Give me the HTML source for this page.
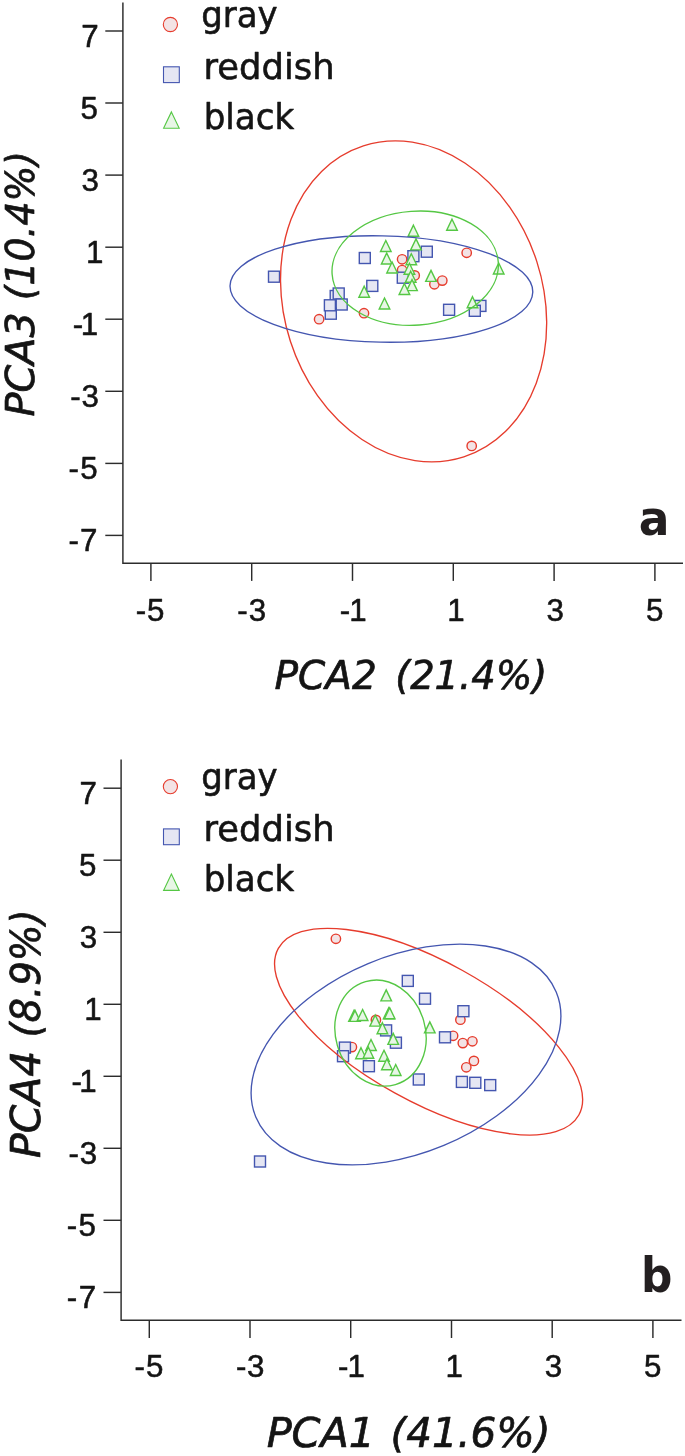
<!DOCTYPE html>
<html><head><meta charset="utf-8"><title>PCA plots</title>
<style>
html,body{margin:0;padding:0;background:#fff;}
svg{display:block;}
text{font-family:"DejaVu Sans","Liberation Sans",sans-serif;fill:#141414;stroke:#141414;stroke-width:0.5px;stroke-linejoin:round;}
.tk{font-size:31.3px;font-family:"Liberation Sans","DejaVu Sans",sans-serif;stroke-width:0.55px;}
.lg{font-size:35.8px;stroke-width:0.6px;}
.tia{font-size:39.5px;font-style:italic;stroke-width:0.7px;}
.tib{font-size:40.5px;font-style:italic;stroke-width:0.7px;}
.lt{font-size:48px;font-weight:bold;stroke-width:0;fill:#231f20;}
</style></head><body>
<svg width="685" height="1456" viewBox="0 0 685 1456">
<rect width="685" height="1456" fill="#ffffff"/>
<path d="M122.9 2.6V563.2H683.0" fill="none" stroke="#2c2c2c" stroke-width="1.45"/>
<path d="M105.3 535.4H122.9" stroke="#2c2c2c" stroke-width="1.45"/>
<text x="68.62" y="551.21" class="tk" textLength="28.80" lengthAdjust="spacing">-7</text>
<path d="M105.3 463.4H122.9" stroke="#2c2c2c" stroke-width="1.45"/>
<text x="68.62" y="479.15" class="tk" textLength="29.06" lengthAdjust="spacing">-5</text>
<path d="M105.3 391.3H122.9" stroke="#2c2c2c" stroke-width="1.45"/>
<text x="70.30" y="407.09" class="tk" textLength="28.52" lengthAdjust="spacing">-3</text>
<path d="M105.3 319.2H122.9" stroke="#2c2c2c" stroke-width="1.45"/>
<text x="72.80" y="335.03" class="tk" textLength="25.47" lengthAdjust="spacing">-1</text>
<path d="M105.3 247.2H122.9" stroke="#2c2c2c" stroke-width="1.45"/>
<text x="86.07" y="262.97" class="tk">1</text>
<path d="M105.3 175.1H122.9" stroke="#2c2c2c" stroke-width="1.45"/>
<text x="81.58" y="190.91" class="tk">3</text>
<path d="M105.3 103.0H122.9" stroke="#2c2c2c" stroke-width="1.45"/>
<text x="80.45" y="118.85" class="tk">5</text>
<path d="M105.3 31.0H122.9" stroke="#2c2c2c" stroke-width="1.45"/>
<text x="81.27" y="46.79" class="tk">7</text>
<path d="M150.9 563.2V580.9" stroke="#2c2c2c" stroke-width="1.45"/>
<text x="135.78" y="621.00" class="tk" textLength="28.67" lengthAdjust="spacing">-5</text>
<path d="M251.7 563.2V580.9" stroke="#2c2c2c" stroke-width="1.45"/>
<text x="237.21" y="621.00" class="tk" textLength="28.83" lengthAdjust="spacing">-3</text>
<path d="M352.5 563.2V580.9" stroke="#2c2c2c" stroke-width="1.45"/>
<text x="339.71" y="621.00" class="tk" textLength="26.90" lengthAdjust="spacing">-1</text>
<path d="M453.3 563.2V580.9" stroke="#2c2c2c" stroke-width="1.45"/>
<text x="447.37" y="621.00" class="tk">1</text>
<path d="M554.1 563.2V580.9" stroke="#2c2c2c" stroke-width="1.45"/>
<text x="546.60" y="621.00" class="tk">3</text>
<path d="M654.9 563.2V580.9" stroke="#2c2c2c" stroke-width="1.45"/>
<text x="646.04" y="621.00" class="tk">5</text>
<circle cx="170.4" cy="24.5" r="7.1" fill="#f3e3e5" stroke="#e63c2d" stroke-width="1.1"/>
<rect x="163.5" y="66.8" width="15.8" height="15.8" fill="#e5e6f3" stroke="#4456b0" stroke-width="1.1"/>
<path d="M171.4 111.9L179.2 128.3L163.6 128.3Z" fill="#e8f6e6" stroke="#55c744" stroke-width="1.1" stroke-linejoin="miter"/>
<text x="201.14" y="27.20" class="lg" textLength="76.58" lengthAdjust="spacingAndGlyphs">gray</text>
<text x="203.51" y="79.10" class="lg" textLength="131.05" lengthAdjust="spacingAndGlyphs">reddish</text>
<text x="203.64" y="128.70" class="lg" textLength="90.60" lengthAdjust="spacingAndGlyphs">black</text>
<circle cx="319.1" cy="319.2" r="4.7" fill="#f3e3e5" stroke="#e63c2d" stroke-width="1.4"/>
<circle cx="364.0" cy="313.2" r="4.7" fill="#f3e3e5" stroke="#e63c2d" stroke-width="1.4"/>
<circle cx="402.1" cy="259.3" r="4.7" fill="#f3e3e5" stroke="#e63c2d" stroke-width="1.4"/>
<circle cx="402.1" cy="270.1" r="4.7" fill="#f3e3e5" stroke="#e63c2d" stroke-width="1.4"/>
<circle cx="414.7" cy="275.4" r="4.7" fill="#f3e3e5" stroke="#e63c2d" stroke-width="1.4"/>
<circle cx="434.4" cy="284.3" r="4.7" fill="#f3e3e5" stroke="#e63c2d" stroke-width="1.4"/>
<circle cx="442.3" cy="280.6" r="4.7" fill="#f3e3e5" stroke="#e63c2d" stroke-width="1.4"/>
<circle cx="466.7" cy="252.8" r="4.7" fill="#f3e3e5" stroke="#e63c2d" stroke-width="1.4"/>
<circle cx="471.7" cy="445.9" r="4.7" fill="#f3e3e5" stroke="#e63c2d" stroke-width="1.4"/>
<rect x="268.5" y="271.2" width="11" height="11" fill="#e5e6f3" stroke="#4456b0" stroke-width="1.4"/>
<rect x="359.3" y="252.5" width="11" height="11" fill="#e5e6f3" stroke="#4456b0" stroke-width="1.4"/>
<rect x="366.8" y="280.4" width="11" height="11" fill="#e5e6f3" stroke="#4456b0" stroke-width="1.4"/>
<rect x="330.2" y="290.5" width="11" height="11" fill="#e5e6f3" stroke="#4456b0" stroke-width="1.4"/>
<rect x="333.2" y="288.0" width="11" height="11" fill="#e5e6f3" stroke="#4456b0" stroke-width="1.4"/>
<rect x="336.2" y="299.0" width="11" height="11" fill="#e5e6f3" stroke="#4456b0" stroke-width="1.4"/>
<rect x="325.3" y="308.2" width="11" height="11" fill="#e5e6f3" stroke="#4456b0" stroke-width="1.4"/>
<rect x="324.4" y="299.8" width="11" height="11" fill="#e5e6f3" stroke="#4456b0" stroke-width="1.4"/>
<rect x="421.3" y="246.2" width="11" height="11" fill="#e5e6f3" stroke="#4456b0" stroke-width="1.4"/>
<rect x="407.9" y="250.7" width="11" height="11" fill="#e5e6f3" stroke="#4456b0" stroke-width="1.4"/>
<rect x="397.3" y="272.2" width="11" height="11" fill="#e5e6f3" stroke="#4456b0" stroke-width="1.4"/>
<rect x="443.6" y="304.3" width="11" height="11" fill="#e5e6f3" stroke="#4456b0" stroke-width="1.4"/>
<rect x="474.9" y="300.4" width="11" height="11" fill="#e5e6f3" stroke="#4456b0" stroke-width="1.4"/>
<rect x="469.3" y="305.3" width="11" height="11" fill="#e5e6f3" stroke="#4456b0" stroke-width="1.4"/>
<path d="M385.8 240.5L391.1 251.5L380.5 251.5Z" fill="#e8f6e6" stroke="#55c744" stroke-width="1.4" stroke-linejoin="miter"/>
<path d="M386.7 253.0L392.0 264.0L381.4 264.0Z" fill="#e8f6e6" stroke="#55c744" stroke-width="1.4" stroke-linejoin="miter"/>
<path d="M392.1 262.0L397.4 273.0L386.8 273.0Z" fill="#e8f6e6" stroke="#55c744" stroke-width="1.4" stroke-linejoin="miter"/>
<path d="M364.2 286.2L369.5 297.2L358.9 297.2Z" fill="#e8f6e6" stroke="#55c744" stroke-width="1.4" stroke-linejoin="miter"/>
<path d="M384.5 298.0L389.8 309.0L379.2 309.0Z" fill="#e8f6e6" stroke="#55c744" stroke-width="1.4" stroke-linejoin="miter"/>
<path d="M413.4 225.2L418.7 236.2L408.1 236.2Z" fill="#e8f6e6" stroke="#55c744" stroke-width="1.4" stroke-linejoin="miter"/>
<path d="M452.0 219.2L457.3 230.2L446.7 230.2Z" fill="#e8f6e6" stroke="#55c744" stroke-width="1.4" stroke-linejoin="miter"/>
<path d="M416.0 238.9L421.3 249.9L410.7 249.9Z" fill="#e8f6e6" stroke="#55c744" stroke-width="1.4" stroke-linejoin="miter"/>
<path d="M411.3 253.8L416.6 264.8L406.0 264.8Z" fill="#e8f6e6" stroke="#55c744" stroke-width="1.4" stroke-linejoin="miter"/>
<path d="M409.4 263.3L414.7 274.3L404.1 274.3Z" fill="#e8f6e6" stroke="#55c744" stroke-width="1.4" stroke-linejoin="miter"/>
<path d="M410.7 271.2L416.0 282.2L405.4 282.2Z" fill="#e8f6e6" stroke="#55c744" stroke-width="1.4" stroke-linejoin="miter"/>
<path d="M412.0 279.6L417.3 290.6L406.7 290.6Z" fill="#e8f6e6" stroke="#55c744" stroke-width="1.4" stroke-linejoin="miter"/>
<path d="M404.4 283.5L409.7 294.5L399.1 294.5Z" fill="#e8f6e6" stroke="#55c744" stroke-width="1.4" stroke-linejoin="miter"/>
<path d="M431.0 270.4L436.3 281.4L425.7 281.4Z" fill="#e8f6e6" stroke="#55c744" stroke-width="1.4" stroke-linejoin="miter"/>
<path d="M498.7 263.0L504.0 274.0L493.4 274.0Z" fill="#e8f6e6" stroke="#55c744" stroke-width="1.4" stroke-linejoin="miter"/>
<path d="M472.5 296.7L477.8 307.7L467.2 307.7Z" fill="#e8f6e6" stroke="#55c744" stroke-width="1.4" stroke-linejoin="miter"/>
<ellipse cx="413.6" cy="301.4" rx="129.5" ry="163.4" transform="rotate(162.1 413.6 301.4)" fill="none" stroke="#e63c2d" stroke-width="1.35"/>
<ellipse cx="381.4" cy="289.0" rx="53.2" ry="151.4" transform="rotate(91.2 381.4 289.0)" fill="none" stroke="#4456b0" stroke-width="1.35"/>
<ellipse cx="415.2" cy="268.2" rx="57.0" ry="83.3" transform="rotate(85.8 415.2 268.2)" fill="none" stroke="#55c744" stroke-width="1.35"/>
<text x="274.46" y="689.30" class="tia" textLength="102.29" lengthAdjust="spacingAndGlyphs">PCA2</text>
<text x="395.15" y="689.30" class="tia" textLength="152.21" lengthAdjust="spacingAndGlyphs">(21.4%)</text>
<text transform="translate(33.50 416.50) rotate(-90)" class="tia" textLength="104.20" lengthAdjust="spacingAndGlyphs">PCA3</text>
<text transform="translate(33.50 300.17) rotate(-90)" class="tia" textLength="149.22" lengthAdjust="spacingAndGlyphs">(10.4%)</text>
<text x="638.66" y="535.30" class="lt" textLength="30.70" lengthAdjust="spacingAndGlyphs">a</text>
<path d="M121.1 759.6V1320.3H681.5" fill="none" stroke="#2c2c2c" stroke-width="1.45"/>
<path d="M103.5 1292.4H121.1" stroke="#2c2c2c" stroke-width="1.45"/>
<text x="66.84" y="1308.17" class="tk" textLength="29.40" lengthAdjust="spacing">-7</text>
<path d="M103.5 1220.3H121.1" stroke="#2c2c2c" stroke-width="1.45"/>
<text x="66.84" y="1236.15" class="tk" textLength="28.99" lengthAdjust="spacing">-5</text>
<path d="M103.5 1148.3H121.1" stroke="#2c2c2c" stroke-width="1.45"/>
<text x="68.52" y="1164.13" class="tk" textLength="28.65" lengthAdjust="spacing">-3</text>
<path d="M103.5 1076.3H121.1" stroke="#2c2c2c" stroke-width="1.45"/>
<text x="71.40" y="1092.11" class="tk" textLength="25.38" lengthAdjust="spacing">-1</text>
<path d="M103.5 1004.3H121.1" stroke="#2c2c2c" stroke-width="1.45"/>
<text x="84.17" y="1020.09" class="tk">1</text>
<path d="M103.5 932.3H121.1" stroke="#2c2c2c" stroke-width="1.45"/>
<text x="79.86" y="948.07" class="tk">3</text>
<path d="M103.5 860.2H121.1" stroke="#2c2c2c" stroke-width="1.45"/>
<text x="79.08" y="876.05" class="tk">5</text>
<path d="M103.5 788.2H121.1" stroke="#2c2c2c" stroke-width="1.45"/>
<text x="79.48" y="804.03" class="tk">7</text>
<path d="M149.3 1320.3V1338.0" stroke="#2c2c2c" stroke-width="1.45"/>
<text x="134.43" y="1377.20" class="tk" textLength="29.04" lengthAdjust="spacing">-5</text>
<path d="M250.0 1320.3V1338.0" stroke="#2c2c2c" stroke-width="1.45"/>
<text x="235.97" y="1377.20" class="tk" textLength="28.34" lengthAdjust="spacing">-3</text>
<path d="M350.7 1320.3V1338.0" stroke="#2c2c2c" stroke-width="1.45"/>
<text x="337.93" y="1377.20" class="tk" textLength="27.04" lengthAdjust="spacing">-1</text>
<path d="M451.5 1320.3V1338.0" stroke="#2c2c2c" stroke-width="1.45"/>
<text x="445.54" y="1377.20" class="tk">1</text>
<path d="M552.2 1320.3V1338.0" stroke="#2c2c2c" stroke-width="1.45"/>
<text x="544.76" y="1377.20" class="tk">3</text>
<path d="M652.9 1320.3V1338.0" stroke="#2c2c2c" stroke-width="1.45"/>
<text x="643.95" y="1377.20" class="tk">5</text>
<circle cx="170.4" cy="786.6" r="7.1" fill="#f3e3e5" stroke="#e63c2d" stroke-width="1.1"/>
<rect x="163.5" y="828.9" width="15.8" height="15.8" fill="#e5e6f3" stroke="#4456b0" stroke-width="1.1"/>
<path d="M171.4 874.0L179.2 890.4L163.6 890.4Z" fill="#e8f6e6" stroke="#55c744" stroke-width="1.1" stroke-linejoin="miter"/>
<text x="201.14" y="789.30" class="lg" textLength="76.58" lengthAdjust="spacingAndGlyphs">gray</text>
<text x="203.51" y="841.20" class="lg" textLength="131.05" lengthAdjust="spacingAndGlyphs">reddish</text>
<text x="203.64" y="890.80" class="lg" textLength="90.60" lengthAdjust="spacingAndGlyphs">black</text>
<circle cx="335.9" cy="938.8" r="4.7" fill="#f3e3e5" stroke="#e63c2d" stroke-width="1.4"/>
<circle cx="375.9" cy="1019.9" r="4.7" fill="#f3e3e5" stroke="#e63c2d" stroke-width="1.4"/>
<circle cx="351.9" cy="1047.1" r="4.7" fill="#f3e3e5" stroke="#e63c2d" stroke-width="1.4"/>
<circle cx="460.4" cy="1019.7" r="4.7" fill="#f3e3e5" stroke="#e63c2d" stroke-width="1.4"/>
<circle cx="453.1" cy="1035.8" r="4.7" fill="#f3e3e5" stroke="#e63c2d" stroke-width="1.4"/>
<circle cx="462.8" cy="1043.1" r="4.7" fill="#f3e3e5" stroke="#e63c2d" stroke-width="1.4"/>
<circle cx="472.4" cy="1041.3" r="4.7" fill="#f3e3e5" stroke="#e63c2d" stroke-width="1.4"/>
<circle cx="473.9" cy="1060.9" r="4.7" fill="#f3e3e5" stroke="#e63c2d" stroke-width="1.4"/>
<circle cx="466.3" cy="1067.3" r="4.7" fill="#f3e3e5" stroke="#e63c2d" stroke-width="1.4"/>
<rect x="402.3" y="975.4" width="11" height="11" fill="#e5e6f3" stroke="#4456b0" stroke-width="1.4"/>
<rect x="419.5" y="993.2" width="11" height="11" fill="#e5e6f3" stroke="#4456b0" stroke-width="1.4"/>
<rect x="380.6" y="1024.9" width="11" height="11" fill="#e5e6f3" stroke="#4456b0" stroke-width="1.4"/>
<rect x="390.4" y="1037.2" width="11" height="11" fill="#e5e6f3" stroke="#4456b0" stroke-width="1.4"/>
<rect x="439.5" y="1031.8" width="11" height="11" fill="#e5e6f3" stroke="#4456b0" stroke-width="1.4"/>
<rect x="339.4" y="1042.1" width="11" height="11" fill="#e5e6f3" stroke="#4456b0" stroke-width="1.4"/>
<rect x="337.5" y="1050.7" width="11" height="11" fill="#e5e6f3" stroke="#4456b0" stroke-width="1.4"/>
<rect x="363.4" y="1060.7" width="11" height="11" fill="#e5e6f3" stroke="#4456b0" stroke-width="1.4"/>
<rect x="413.3" y="1074.0" width="11" height="11" fill="#e5e6f3" stroke="#4456b0" stroke-width="1.4"/>
<rect x="457.9" y="1005.7" width="11" height="11" fill="#e5e6f3" stroke="#4456b0" stroke-width="1.4"/>
<rect x="456.4" y="1076.4" width="11" height="11" fill="#e5e6f3" stroke="#4456b0" stroke-width="1.4"/>
<rect x="469.8" y="1077.3" width="11" height="11" fill="#e5e6f3" stroke="#4456b0" stroke-width="1.4"/>
<rect x="484.7" y="1079.6" width="11" height="11" fill="#e5e6f3" stroke="#4456b0" stroke-width="1.4"/>
<rect x="254.5" y="1156.0" width="11" height="11" fill="#e5e6f3" stroke="#4456b0" stroke-width="1.4"/>
<path d="M386.2 989.9L391.5 1000.9L380.9 1000.9Z" fill="#e8f6e6" stroke="#55c744" stroke-width="1.4" stroke-linejoin="miter"/>
<path d="M354.0 1010.4L359.3 1021.4L348.7 1021.4Z" fill="#e8f6e6" stroke="#55c744" stroke-width="1.4" stroke-linejoin="miter"/>
<path d="M355.0 1010.4L360.3 1021.4L349.7 1021.4Z" fill="#e8f6e6" stroke="#55c744" stroke-width="1.4" stroke-linejoin="miter"/>
<path d="M362.6 1009.5L367.9 1020.5L357.3 1020.5Z" fill="#e8f6e6" stroke="#55c744" stroke-width="1.4" stroke-linejoin="miter"/>
<path d="M388.7 1007.8L394.0 1018.8L383.4 1018.8Z" fill="#e8f6e6" stroke="#55c744" stroke-width="1.4" stroke-linejoin="miter"/>
<path d="M389.7 1007.8L395.0 1018.8L384.4 1018.8Z" fill="#e8f6e6" stroke="#55c744" stroke-width="1.4" stroke-linejoin="miter"/>
<path d="M375.2 1015.1L380.5 1026.1L369.9 1026.1Z" fill="#e8f6e6" stroke="#55c744" stroke-width="1.4" stroke-linejoin="miter"/>
<path d="M382.4 1022.7L387.7 1033.7L377.1 1033.7Z" fill="#e8f6e6" stroke="#55c744" stroke-width="1.4" stroke-linejoin="miter"/>
<path d="M393.2 1033.4L398.5 1044.4L387.9 1044.4Z" fill="#e8f6e6" stroke="#55c744" stroke-width="1.4" stroke-linejoin="miter"/>
<path d="M429.8 1021.9L435.1 1032.9L424.5 1032.9Z" fill="#e8f6e6" stroke="#55c744" stroke-width="1.4" stroke-linejoin="miter"/>
<path d="M371.0 1039.5L376.3 1050.5L365.7 1050.5Z" fill="#e8f6e6" stroke="#55c744" stroke-width="1.4" stroke-linejoin="miter"/>
<path d="M361.0 1047.7L366.3 1058.7L355.7 1058.7Z" fill="#e8f6e6" stroke="#55c744" stroke-width="1.4" stroke-linejoin="miter"/>
<path d="M368.4 1047.2L373.7 1058.2L363.1 1058.2Z" fill="#e8f6e6" stroke="#55c744" stroke-width="1.4" stroke-linejoin="miter"/>
<path d="M384.0 1050.3L389.3 1061.3L378.7 1061.3Z" fill="#e8f6e6" stroke="#55c744" stroke-width="1.4" stroke-linejoin="miter"/>
<path d="M386.9 1058.8L392.2 1069.8L381.6 1069.8Z" fill="#e8f6e6" stroke="#55c744" stroke-width="1.4" stroke-linejoin="miter"/>
<path d="M395.7 1064.5L401.0 1075.5L390.4 1075.5Z" fill="#e8f6e6" stroke="#55c744" stroke-width="1.4" stroke-linejoin="miter"/>
<ellipse cx="428.6" cy="1031.7" rx="70.0" ry="171.8" transform="rotate(119.0 428.6 1031.7)" fill="none" stroke="#e63c2d" stroke-width="1.35"/>
<ellipse cx="406.0" cy="1054.5" rx="98.5" ry="162.7" transform="rotate(67.4 406.0 1054.5)" fill="none" stroke="#4456b0" stroke-width="1.35"/>
<ellipse cx="380.5" cy="1033.1" rx="44.9" ry="53.6" transform="rotate(163.8 380.5 1033.1)" fill="none" stroke="#55c744" stroke-width="1.35"/>
<text x="266.65" y="1446.50" class="tib" textLength="108.56" lengthAdjust="spacingAndGlyphs">PCA1</text>
<text x="390.38" y="1446.50" class="tib" textLength="160.04" lengthAdjust="spacingAndGlyphs">(41.6%)</text>
<text transform="translate(39.70 1157.98) rotate(-90)" class="tib" textLength="107.24" lengthAdjust="spacingAndGlyphs">PCA4</text>
<text transform="translate(39.70 1037.61) rotate(-90)" class="tib" textLength="128.22" lengthAdjust="spacingAndGlyphs">(8.9%)</text>
<text x="641.09" y="1292.30" class="lt" textLength="31.36" lengthAdjust="spacingAndGlyphs">b</text>
</svg>
</body></html>
